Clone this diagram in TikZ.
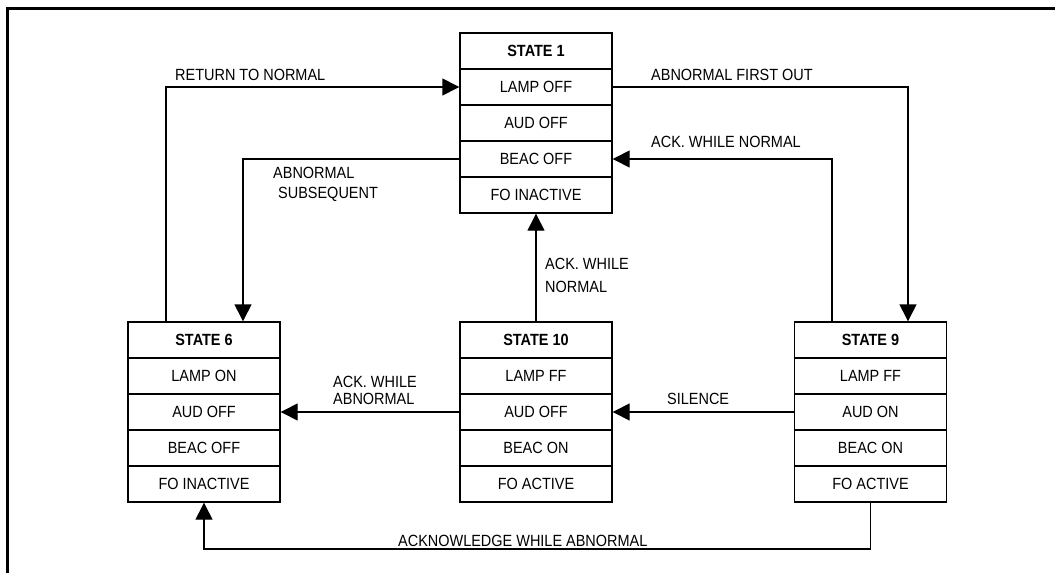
\documentclass[tikz,border=0pt]{standalone}
\usepackage{fontspec}
\setmainfont{Liberation Sans}
\newfontfamily\lbf[FakeStretch=0.893]{Liberation Sans}
\usetikzlibrary{arrows.meta}
\tikzset{
  cell/.style={draw, line width=1.4pt, rectangle, minimum width=152pt, minimum height=36pt,
    inner sep=0pt, text height=11.6pt, text depth=0pt, font=\lbf\fontsize{16.2}{19}\selectfont},
  head/.style={cell, font=\lbf\fontsize{16.2}{19}\selectfont\bfseries},
  lbl/.style={anchor=west, inner sep=0pt, text height=11.6pt, text depth=0pt, font=\lbf\fontsize{16.2}{19}\selectfont},
  conn/.style={line width=1.4pt},
  arr/.style={conn, -{Triangle[length=17pt,width=17pt]}}
}
\newcommand{\mystate}[8]{%
  \node[head] (#1t) at (#2,#3+18) {#4};
  \node[cell] (#1a) at (#2,#3+54) {#5};
  \node[cell] (#1b) at (#2,#3+90) {#6};
  \node[cell] (#1c) at (#2,#3+126) {#7};
  \node[cell] (#1d) at (#2,#3+162) {#8};
}
\begin{document}
\begin{tikzpicture}[x=1pt,y=-1pt]
\useasboundingbox (0,0) rectangle (1055,573);
\draw[line width=3.2pt] (7.5,573) -- (7.5,8.3) -- (1055,8.3);

\mystate{s1}{536}{33}{STATE 1}{LAMP OFF}{AUD OFF}{BEAC OFF}{FO INACTIVE}
\mystate{s6}{204}{322}{STATE 6}{LAMP ON}{AUD OFF}{BEAC OFF}{FO INACTIVE}
\mystate{s10}{536}{322}{STATE 10}{LAMP FF}{AUD OFF}{BEAC ON}{FO ACTIVE}
\mystate{s9}{870.5}{322}{STATE 9}{LAMP FF}{AUD ON}{BEAC ON}{FO ACTIVE}

% connectors
\draw[arr] ([xshift=-38pt]s6t.north) |- (s1a.west);
\draw[arr] (s1c.west) -| ([xshift=39pt]s6t.north);
\draw[arr] (s1a.east) -| ([xshift=37.5pt]s9t.north);
\draw[arr] ([xshift=-38.5pt]s9t.north) |- (s1c.east);
\draw[arr] (s10t.north) -- (s1d.south);
\draw[arr] (s9b.west) -- (s10b.east);
\draw[arr] (s10b.west) -- (s6b.east);
\coordinate (bot) at (870.5,549);
\draw[arr] (s9d.south) -- (bot) -| (s6d.south);

% labels
\node[lbl] (l1) at (175,75) {RETURN TO NORMAL};
\node[lbl] (l2) at (651,75) {ABNORMAL FIRST OUT};
\node[lbl] (l3) at (651,142) {ACK. WHILE NORMAL};
\node[lbl] (l4) at (273,173) {ABNORMAL};
\node[lbl] (l5) at (278,193) {SUBSEQUENT};
\node[lbl] (l6) at (545,264) {ACK. WHILE};
\node[lbl] (l7) at (545,287) {NORMAL};
\node[lbl] (l8) at (333,382) {ACK. WHILE};
\node[lbl] (l9) at (333,399) {ABNORMAL};
\node[lbl] (l10) at (667,399) {SILENCE};
\node[lbl] (l11) at (398,541) {ACKNOWLEDGE WHILE ABNORMAL};
\end{tikzpicture}
\end{document}
